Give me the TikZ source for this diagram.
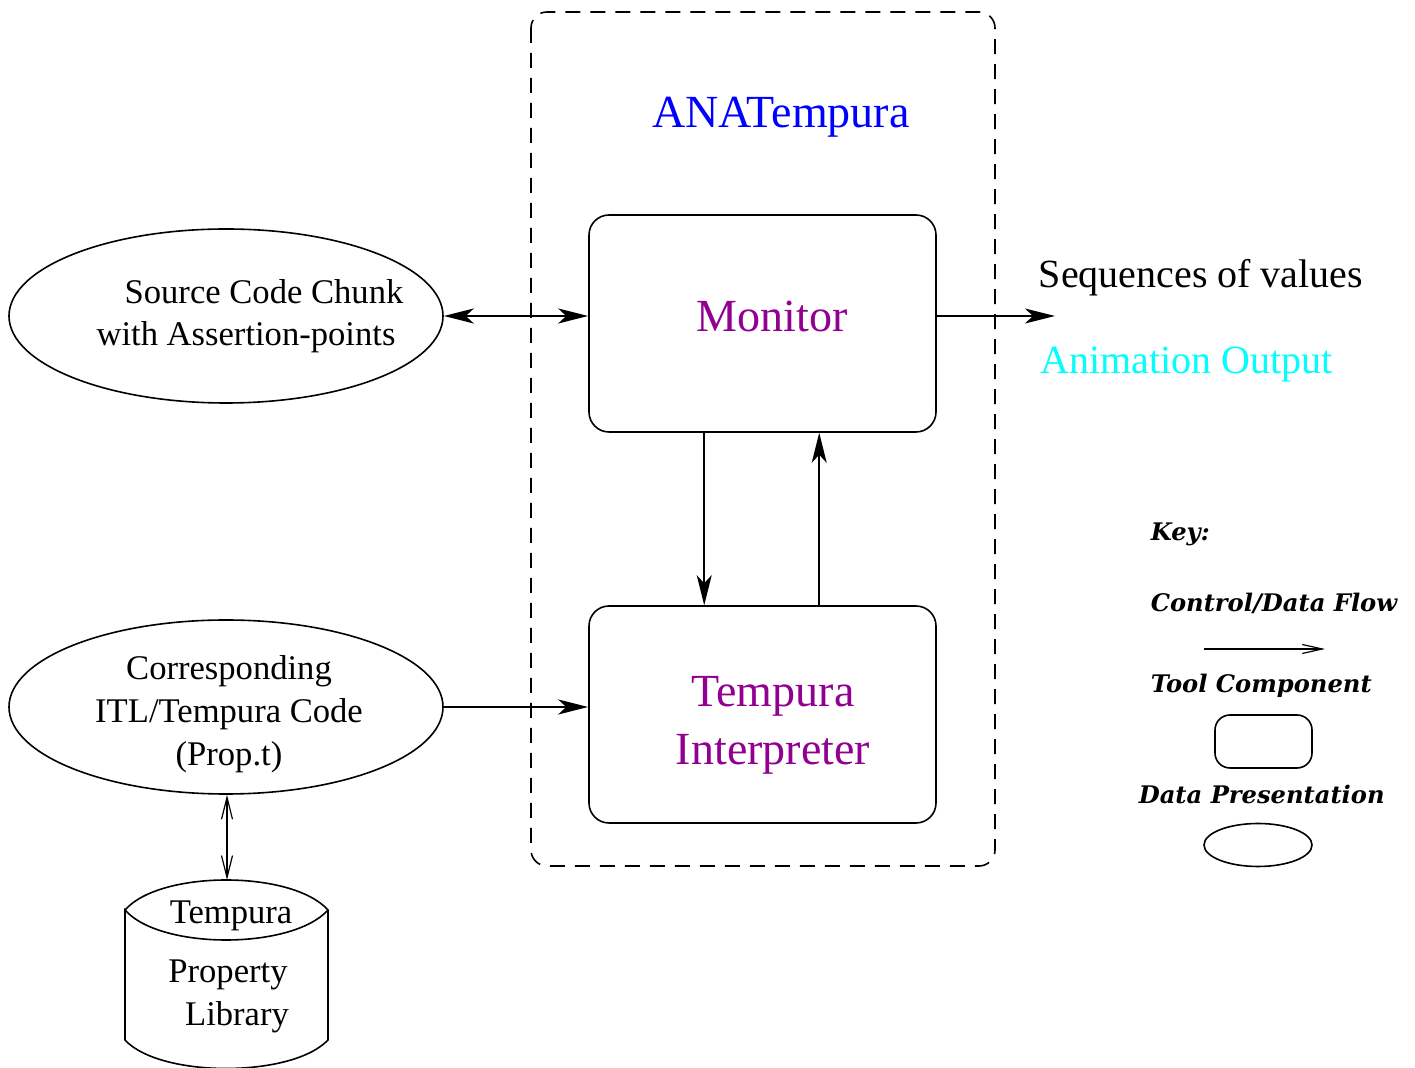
\documentclass[tikz,border=0pt]{standalone}
\usepackage{fontspec}
\setmainfont{Liberation Serif}
\newfontfamily\keyfont{DejaVu Serif}
\usetikzlibrary{shapes.geometric,arrows.meta,calc}
\definecolor{anablue}{RGB}{0,0,255}
\definecolor{compurple}{RGB}{145,0,145}
\definecolor{animcyan}{RGB}{0,255,255}
\begin{document}
\begin{tikzpicture}[x=0.5pt,y=-0.5pt,line width=0.8pt,
  fl/.style={-{Stealth[length=15pt,width=7.5pt,inset=4pt]}},
  flboth/.style={{Stealth[length=15pt,width=7.5pt,inset=4pt]}-{Stealth[length=15pt,width=7.5pt,inset=4pt]}},
  openboth/.style={line width=0.6pt,{Straight Barb[length=11pt,width=5.5pt]}-{Straight Barb[length=11pt,width=5.5pt]}},
  openarr/.style={line width=0.6pt,-{Straight Barb[length=10pt,width=4.5pt]}},
  comp/.style={draw,rounded corners=10pt,minimum width=173.5pt,minimum height=108.5pt,inner sep=0pt},
  datap/.style={draw,ellipse,minimum width=217pt,minimum height=87pt,inner sep=0pt},
  etext/.style={font=\fontsize{17.3}{21.5}\selectfont,align=center,inner sep=0pt},
  ctext/.style={text=compurple,font=\fontsize{23}{29}\selectfont,align=center,inner sep=0pt},
  otext/.style={font=\fontsize{20}{24}\selectfont,anchor=west,inner sep=0pt},
  ktext/.style={font=\keyfont\bfseries\itshape\fontsize{12.1}{15}\selectfont,anchor=west,inner sep=0pt}]
\useasboundingbox (0,0) rectangle (1415,1068);

% ANATempura dashed boundary
\draw[dash pattern=on 7.5pt off 5pt,rounded corners=8pt] (531,12) rectangle (995,866);
\node[text=anablue,font=\fontsize{23}{28}\selectfont,inner sep=0pt] (ana) at (781,117) {ANATempura};

% components
\node[comp] (mon) at (762.5,323.5) {};
\node[ctext] (montxt) at (772,317) {Monitor};
\node[comp] (interp) at (762.5,714.5) {};
\node[ctext] (interptxt) at (773,725) {Tempura\\Interpreter};

% data presentations
\node[datap] (src) at (226,316) {};
\node[etext] (src1) at (264,292) {Source Code Chunk};
\node[etext] (src2) at (246,337) {with Assertion-points};
\node[datap] (itl) at (226,707) {};
\node[etext] (itltxt) at (229,714) {Corresponding\\ITL/Tempura Code\\(Prop.t)};

% cylinder
\draw (125,910) .. controls (160,870) and (292,870) .. (328,910)
      .. controls (292,950) and (160,950) .. (125,910) -- (125,1040)
      .. controls (160,1078) and (292,1078) .. (328,1040) -- (328,910);
\coordinate (cyltop) at (226,880);
\node[etext] (lib1) at (231,916) {Tempura};
\node[etext] (lib2) at (228,996) {Property\\\hspace*{9pt}Library};

% outputs
\coordinate (out) at (1055,316);
\node[otext] (seq) at (1038,278) {Sequences of values};
\node[otext,text=animcyan] (anim) at (1040,365) {Animation Output};

% connectors
\draw[flboth] (src.east) -- (src.east -| mon.west);
\draw[fl] (src.east -| mon.east) -- (out);
\draw[fl] ([xshift=58pt]mon.south west) -- ([xshift=58pt]interp.north west);
\draw[fl] ([xshift=115.5pt]interp.north west) -- ([xshift=115.5pt]mon.south west);
\draw[fl] (itl.east) -- (itl.east -| interp.west);
\draw[openboth] ([xshift=0.5pt]itl.south) -- ([xshift=0.5pt]cyltop);

% key
\node[ktext] (key) at (1150,534) {Key:};
\node[ktext] (kflow) at (1150,603) {Control/Data Flow};
\coordinate (ka) at (1204,649);
\coordinate (kb) at (1325,649);
\draw[openarr] (ka) -- (kb);
\node[ktext] (ktool) at (1150,686) {Tool Component};
\node[draw,rounded corners=7.5pt,minimum width=48.5pt,minimum height=26.5pt,inner sep=0pt] (krect) at (1263.5,741.5) {};
\node[ktext] (kdata) at (1138,794) {Data Presentation};
\node[draw,ellipse,minimum width=54pt,minimum height=21.5pt,inner sep=0pt] (kell) at (1258,845) {};
\end{tikzpicture}
\end{document}
